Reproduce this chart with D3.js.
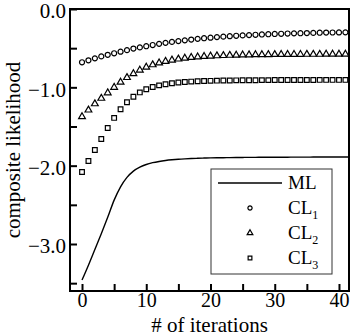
<!DOCTYPE html>
<html>
<head>
<meta charset="utf-8">
<script src="https://cdn.jsdelivr.net/npm/d3@7"></script>
<style>
  body { margin: 0; background: #fff; }
</style>
</head>
<body>
<div id="vis"></div>
<script>
// iteration index (x) for every series
var iterations = [0, 1, 2, 3, 4, 5, 6, 7, 8, 9, 10, 11, 12, 13, 14, 15, 16, 17, 18, 19, 20,
  21, 22, 23, 24, 25, 26, 27, 28, 29, 30, 31, 32, 33, 34, 35, 36, 37, 38, 39, 40, 41, 42];

// ML (solid line)
var mlValues = [-3.46, -3.27, -3.07, -2.87, -2.66, -2.44, -2.27, -2.15, -2.07, -2.02, -1.985,
  -1.962, -1.946, -1.934, -1.925, -1.918, -1.913, -1.909, -1.906, -1.903, -1.901,
  -1.899, -1.898, -1.897, -1.896, -1.895, -1.894, -1.894, -1.893, -1.893, -1.892,
  -1.892, -1.892, -1.891, -1.891, -1.891, -1.890, -1.890, -1.890, -1.890, -1.889, -1.889, -1.889];

// CL1 (circles)
var cl1Values = [-0.68, -0.655, -0.63, -0.605, -0.585, -0.565, -0.545, -0.525, -0.505, -0.49, -0.475,
  -0.46, -0.445, -0.432, -0.42, -0.41, -0.40, -0.39, -0.381, -0.373, -0.366,
  -0.359, -0.353, -0.347, -0.342, -0.337, -0.333, -0.329, -0.325, -0.322, -0.319,
  -0.316, -0.313, -0.311, -0.309, -0.307, -0.305, -0.303, -0.301, -0.300, -0.299, -0.298, -0.297];

// CL2 (triangles)
var cl2Values = [-1.375, -1.29, -1.21, -1.14, -1.07, -1.00, -0.935, -0.875, -0.825, -0.78, -0.742,
  -0.712, -0.688, -0.668, -0.652, -0.639, -0.628, -0.619, -0.612, -0.606, -0.601,
  -0.597, -0.594, -0.591, -0.589, -0.587, -0.585, -0.584, -0.583, -0.582, -0.581,
  -0.580, -0.580, -0.579, -0.579, -0.578, -0.578, -0.578, -0.577, -0.577, -0.577, -0.577, -0.576];

// CL3 (squares)
var cl3Values = [-2.08, -1.94, -1.80, -1.66, -1.52, -1.39, -1.28, -1.19, -1.12, -1.065, -1.025,
  -0.995, -0.975, -0.96, -0.948, -0.939, -0.932, -0.927, -0.923, -0.92, -0.917,
  -0.915, -0.913, -0.912, -0.911, -0.910, -0.909, -0.909, -0.908, -0.908, -0.907,
  -0.907, -0.907, -0.906, -0.906, -0.906, -0.906, -0.905, -0.905, -0.905, -0.905, -0.905, -0.905];

var xMajorTicks = [0, 10, 20, 30, 40];
var xMinorTicks = [5, 15, 25, 35];
var yMajorTicks = [0, -1, -2, -3];
var yMinorTicks = [-0.5, -1.5, -2.5, -3.5];

var legendLabels = ["ML", "CL", "CL", "CL"];
var legendSubs = ["", "1", "2", "3"];
var legendKinds = ["line", "circle", "triangle", "square"];

var serif = "Liberation Serif";

var width = 354, height = 336;
var margin = {top: 9, right: 5, bottom: 45, left: 70};
var plotW = width - margin.left - margin.right,
    plotH = height - margin.top - margin.bottom;

var svg = d3.select("#vis").append("svg")
    .attr("width", width)
    .attr("height", height)
    .attr("font-family", serif);

var x = d3.scaleLinear().domain([-1.87, 41.56]).range([0, plotW]);
var y = d3.scaleLinear().domain([-3.6, 0]).range([plotH, 0]);

var graph = svg.append("g")
    .attr("transform", "translate(" + margin.left + "," + margin.top + ")");

graph.append("clipPath").attr("id", "clip")
  .append("rect").attr("width", plotW).attr("height", plotH);

function fmtY(d) {
  return d === 0 ? "0.0" : "\u2212" + Math.abs(d).toFixed(1);
}

// x axis, ticks pointing inward
graph.append("g")
    .attr("class", "axis axis--x")
    .attr("transform", "translate(0," + plotH + ")")
    .call(d3.axisBottom(x).tickValues(xMajorTicks).tickSizeInner(-7).tickSizeOuter(0).tickPadding(2));
graph.append("g")
    .attr("class", "axis")
    .attr("transform", "translate(0," + plotH + ")")
    .call(d3.axisBottom(x).tickValues(xMinorTicks).tickSizeInner(-7).tickSizeOuter(0).tickFormat(""));

// y axis
graph.append("g")
    .attr("class", "axis axis--y")
    .call(d3.axisLeft(y).tickValues(yMajorTicks).tickSizeInner(-7).tickSizeOuter(0).tickPadding(4).tickFormat(fmtY));
graph.append("g")
    .attr("class", "axis")
    .call(d3.axisLeft(y).tickValues(yMinorTicks).tickSizeInner(-7).tickSizeOuter(0).tickFormat(""));

graph.selectAll(".axis").attr("font-family", serif).attr("font-size", 20);
graph.selectAll(".axis--y").attr("font-size", 21);
graph.selectAll(".domain").remove();
graph.selectAll(".tick line").attr("stroke", "#000").attr("stroke-width", 2);
graph.selectAll(".tick text").attr("fill", "#000");
graph.selectAll(".axis--y .tick text").attr("dy", "0.42em");

// axis titles
graph.append("text")
    .attr("x", plotW / 2)
    .attr("y", plotH + 41)
    .attr("text-anchor", "middle")
    .attr("font-family", serif)
    .attr("font-size", 21)
    .text("# of iterations");

graph.append("text")
    .attr("transform", "translate(-50," + (plotH / 2) + ") rotate(-90)")
    .attr("text-anchor", "middle")
    .attr("font-family", serif)
    .attr("font-size", 21)
    .text("composite likelihood");

// data
var plot = graph.append("g").attr("clip-path", "url(#clip)");

var mlData = iterations.map(function(d, i) { return {x: d, y: mlValues[i]}; });
var line = d3.line()
    .x(function(d) { return x(d.x); })
    .y(function(d) { return y(d.y); })
    .curve(d3.curveMonotoneX);

plot.append("path")
    .datum(mlData)
    .attr("fill", "none")
    .attr("stroke", "#000")
    .attr("stroke-width", 1.4)
    .attr("d", line);

var sym = {
  circle: d3.symbol().type(d3.symbolCircle).size(20),
  triangle: d3.symbol().type(d3.symbolTriangle).size(20),
  square: d3.symbol().type(d3.symbolSquare).size(22)
};

function drawMarkers(values, kind) {
  plot.selectAll(".m-" + kind)
    .data(iterations.map(function(d, i) { return {x: d, y: values[i]}; }))
    .enter().append("path")
      .attr("class", "m-" + kind)
      .attr("transform", function(d) { return "translate(" + x(d.x) + "," + y(d.y) + ")"; })
      .attr("d", sym[kind]())
      .attr("fill", "#fff")
      .attr("stroke", "#000")
      .attr("stroke-width", 1.2);
}
drawMarkers(cl1Values, "circle");
drawMarkers(cl2Values, "triangle");
drawMarkers(cl3Values, "square");

// legend
var legend = graph.append("g")
    .attr("transform", "translate(" + (211 - margin.left) + "," + (169 - margin.top) + ")");

legend.append("rect")
    .attr("width", 121)
    .attr("height", 105)
    .attr("fill", "#fff")
    .attr("stroke", "#333")
    .attr("stroke-width", 1);

legendKinds.forEach(function(kind, i) {
  var ly = 14 + i * 25;
  if (kind === "line") {
    legend.append("line")
      .attr("x1", 7).attr("x2", 71)
      .attr("y1", ly).attr("y2", ly)
      .attr("stroke", "#000").attr("stroke-width", 1.4);
  } else {
    legend.append("path")
      .attr("transform", "translate(39," + ly + ")")
      .attr("d", d3.symbol().type(kind === "circle" ? d3.symbolCircle : kind === "triangle" ? d3.symbolTriangle : d3.symbolSquare).size(14)())
      .attr("fill", "#fff")
      .attr("stroke", "#000")
      .attr("stroke-width", 1.2);
  }
  var t = legend.append("text")
    .attr("x", 77)
    .attr("y", ly + 6)
    .attr("font-family", serif)
    .attr("font-size", 19)
    .text(legendLabels[i]);
  if (legendSubs[i]) {
    t.append("tspan")
      .attr("dy", 5)
      .attr("font-size", 12)
      .text(legendSubs[i]);
  }
});

// frame
graph.append("rect")
    .attr("width", plotW)
    .attr("height", plotH)
    .attr("fill", "none")
    .attr("stroke", "#000")
    .attr("stroke-width", 2);
</script>
</body>
</html>
